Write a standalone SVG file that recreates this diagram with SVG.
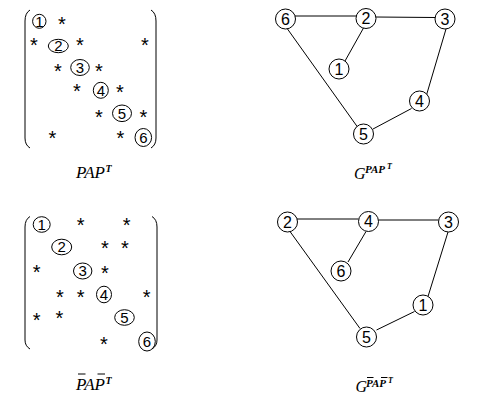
<svg xmlns="http://www.w3.org/2000/svg" width="477" height="400" viewBox="0 0 477 400">
<style>
.br{fill:none;stroke:#000;stroke-width:1}
.mc{fill:none;stroke:#000;stroke-width:1}
.gc{fill:#fff;stroke:#000;stroke-width:1}
.ed{stroke:#000;stroke-width:1;fill:none}
.d{font-family:"Liberation Sans",Arial,sans-serif;font-size:15px;text-anchor:middle;fill:#000}
.gd{font-family:"Liberation Sans",Arial,sans-serif;font-size:16px;text-anchor:middle;fill:#000}
.st{font-family:"Liberation Sans",Arial,sans-serif;font-size:20px;text-anchor:middle;fill:#000}
.lb{font-family:"Liberation Serif","Times New Roman",serif;font-style:italic;fill:#000}
.sup{font-family:"Liberation Serif","Times New Roman",serif;font-style:italic;font-weight:bold;fill:#000}
.ob{stroke:#000;stroke-width:1}
</style>
<rect width="477" height="400" fill="#fff"/>

<g id="matrix-top">
<path class="br" d="M30,10 Q25,13 25,21 L25,138 Q25,145 30,148"/>
<path class="br" d="M151,10 Q156,13 156,21 L156,138 Q156,145 151,148"/>
<ellipse class="mc" cx="39.3" cy="21.3" rx="6.7" ry="7"/><text class="d" x="39.3" y="26.6">1</text>
<ellipse class="mc" cx="58.3" cy="46" rx="10" ry="6.7"/><text class="d" x="58.3" y="51.3">2</text>
<ellipse class="mc" cx="80" cy="67.5" rx="9.3" ry="8"/><text class="d" x="80" y="72.8">3</text>
<ellipse class="mc" cx="100.8" cy="90.3" rx="7.5" ry="8"/><text class="d" x="100.8" y="95.6">4</text>
<ellipse class="mc" cx="122" cy="113.3" rx="9.5" ry="8.3"/><text class="d" x="122" y="118.6">5</text>
<ellipse class="mc" cx="143.3" cy="137.5" rx="8.3" ry="9"/><text class="d" x="143.3" y="142.8">6</text>
<text class="st" x="62" y="30.5">*</text>
<text class="st" x="34" y="51.5">*</text><text class="st" x="80" y="51.5">*</text><text class="st" x="145" y="51.5">*</text>
<text class="st" x="58" y="77.5">*</text><text class="st" x="99" y="77.5">*</text>
<text class="st" x="77" y="98">*</text><text class="st" x="120" y="98.5">*</text>
<text class="st" x="99" y="124">*</text><text class="st" x="143.5" y="124">*</text>
<text class="st" x="52.5" y="144.5">*</text><text class="st" x="120.5" y="144.5">*</text>
</g>

<g id="matrix-bottom">
<path class="br" d="M30,216.5 Q25,219.5 25,227 L25,340 Q25,346 30,349"/>
<path class="br" d="M152,216.5 Q157,219.5 157,227 L157,340 Q157,346 152,349"/>
<ellipse class="mc" cx="41.7" cy="224.5" rx="8.5" ry="7.8"/><text class="d" x="41.7" y="229.8">1</text>
<ellipse class="mc" cx="61.7" cy="247" rx="10" ry="7.8"/><text class="d" x="61.7" y="252.3">2</text>
<ellipse class="mc" cx="82.7" cy="271" rx="9.2" ry="8"/><text class="d" x="82.7" y="276.3">3</text>
<ellipse class="mc" cx="104" cy="294.5" rx="7.5" ry="8.3"/><text class="d" x="104" y="299.8">4</text>
<ellipse class="mc" cx="124.5" cy="317.5" rx="9.8" ry="7.8"/><text class="d" x="124.5" y="322.8">5</text>
<ellipse class="mc" cx="147" cy="341.5" rx="8.3" ry="9.5"/><text class="d" x="147" y="346.8">6</text>
<text class="st" x="80.7" y="231.5">*</text><text class="st" x="126.7" y="231.5">*</text>
<text class="st" x="105" y="254.8">*</text><text class="st" x="125" y="254.8">*</text>
<text class="st" x="36.7" y="278.5">*</text><text class="st" x="105" y="279.5">*</text>
<text class="st" x="60" y="303.5">*</text><text class="st" x="80.7" y="303.5">*</text><text class="st" x="146.7" y="304">*</text>
<text class="st" x="36.7" y="326.5">*</text><text class="st" x="59.3" y="325.2">*</text>
<text class="st" x="104" y="350.5">*</text>
</g>

<g id="connectors">
<line class="ed" x1="295" y1="16" x2="356.5" y2="16"/>
<line class="ed" x1="375.5" y1="17" x2="435" y2="17.5"/>
<line class="ed" x1="363.5" y1="28" x2="345" y2="61"/>
<line class="ed" x1="287.5" y1="29" x2="357.5" y2="127"/>
<line class="ed" x1="446" y1="29" x2="426.5" y2="95"/>
<line class="ed" x1="411.5" y1="108.5" x2="373" y2="129"/>
<line class="ed" x1="297" y1="219" x2="358.5" y2="219"/>
<line class="ed" x1="378.5" y1="220" x2="438.5" y2="220"/>
<line class="ed" x1="366" y1="231.5" x2="348" y2="262"/>
<line class="ed" x1="290" y1="231.5" x2="360" y2="328.5"/>
<line class="ed" x1="448" y1="232" x2="428" y2="296.5"/>
<line class="ed" x1="414.5" y1="311.5" x2="376.5" y2="330"/>
</g>

<g id="t6"><circle class="gc" cx="285.5" cy="19" r="10"/><text class="gd" x="285.5" y="24.8">6</text></g>
<g id="t2"><circle class="gc" cx="366" cy="18.5" r="10"/><text class="gd" x="366" y="24.3">2</text></g>
<g id="t3"><circle class="gc" cx="445" cy="19" r="10"/><text class="gd" x="445" y="24.8">3</text></g>
<g id="t1"><circle class="gc" cx="339" cy="69" r="10"/><text class="gd" x="339" y="74.8">1</text></g>
<g id="t4"><circle class="gc" cx="419.5" cy="101" r="10"/><text class="gd" x="419.5" y="106.8">4</text></g>
<g id="t5"><circle class="gc" cx="363.5" cy="134" r="10"/><text class="gd" x="363.5" y="139.8">5</text></g>

<g id="b2"><circle class="gc" cx="287.5" cy="222" r="10"/><text class="gd" x="287.5" y="227.8">2</text></g>
<g id="b4"><circle class="gc" cx="368.5" cy="221.5" r="10"/><text class="gd" x="368.5" y="227.3">4</text></g>
<g id="b3"><circle class="gc" cx="448.5" cy="222" r="10"/><text class="gd" x="448.5" y="227.8">3</text></g>
<g id="b6"><circle class="gc" cx="341" cy="271" r="10"/><text class="gd" x="341" y="276.8">6</text></g>
<g id="b1"><circle class="gc" cx="423" cy="305" r="10"/><text class="gd" x="423" y="310.8">1</text></g>
<g id="b5"><circle class="gc" cx="366.5" cy="337" r="10"/><text class="gd" x="366.5" y="342.8">5</text></g>

<g id="label-pap">
<text class="lb" x="76" y="178" font-size="17">PAP</text>
<text class="sup" x="105.5" y="172" font-size="10">T</text>
</g>
<g id="label-pbar">
<text class="lb" x="76" y="390" font-size="17">PAP</text>
<text class="sup" x="105.5" y="384" font-size="10">T</text>
<line class="ob" x1="78" y1="374" x2="85.5" y2="374"/>
<line class="ob" x1="97.5" y1="374" x2="105" y2="374"/>
</g>
<g id="label-g">
<text class="lb" x="354" y="179" font-size="16">G</text>
<text class="sup" x="365" y="173" font-size="11">PAP</text>
<text class="sup" x="387" y="169" font-size="8">T</text>
</g>
<g id="label-gbar">
<text class="lb" x="355.5" y="392" font-size="16">G</text>
<text class="sup" x="366" y="386.5" font-size="11">PAP</text>
<text class="sup" x="388" y="382.5" font-size="8">T</text>
<line class="ob" x1="367" y1="377.5" x2="373.5" y2="377.5"/>
<line class="ob" x1="381" y1="377.5" x2="387.5" y2="377.5"/>
</g>
</svg>
